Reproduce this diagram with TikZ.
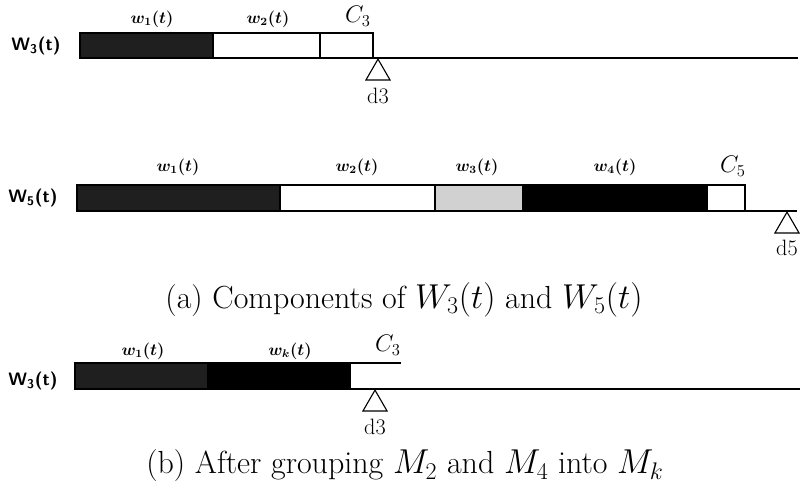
\documentclass[tikz,border=0pt]{standalone}
\usepackage{fontspec}
\usepackage{amsmath}
\usetikzlibrary{shapes.geometric, positioning}
\tikzset{
  seg/.style={draw=black, line width=0.8pt},
  darkseg/.style={seg, fill=black!88},
  blackseg/.style={seg, fill=black},
  greyseg/.style={seg, fill=black!18},
  whiteseg/.style={seg, fill=white},
  baseline/.style={line width=0.9pt},
  marker/.style={isosceles triangle, shape border rotate=90,
    isosceles triangle apex angle=60, draw, line width=0.8pt,
    inner sep=0pt, minimum size=15pt, anchor=apex},
  rowlabel/.style={font=\fontsize{13}{15}\selectfont\sffamily\bfseries},
  partlabel/.style={font=\fontsize{12}{14}\selectfont\boldmath},
  clabel/.style={font=\fontsize{17}{19}\selectfont},
  dlabel/.style={font=\fontsize{16}{18}\selectfont},
  caption/.style={font=\fontsize{23}{27}\selectfont\addfontfeatures{LetterSpace=3}}
}
\begin{document}
\begin{tikzpicture}[x=0.72pt, y=-0.72pt]
  \useasboundingbox (0,0) rectangle (800,499);
  % (a) W3(t)
  \node[rowlabel] (lab3) at (36,46) {W\textsubscript{3}(t)};
  \draw[darkseg] (80,33) rectangle (213,58);
  \draw[whiteseg] (213,33) rectangle (320,58);
  \draw[whiteseg] (320,33) rectangle (373,58);
  \coordinate (end3) at (798,58);
  \draw[baseline] (373,58) -- (end3);
  \node[partlabel] (w1a) at (152,19) {$w_1(t)$};
  \node[partlabel] (w2a) at (268,19) {$w_2(t)$};
  \node[clabel] (c3a) at (358,16) {$C_3$};
  \node[marker] (tri3a) at (378,58) {};
  \node[dlabel, below=2pt of tri3a] (d3a) {d3};

  % (a) W5(t)
  \node[rowlabel] (lab5) at (33,198) {W\textsubscript{5}(t)};
  \draw[darkseg] (77,185) rectangle (280,211);
  \draw[whiteseg] (280,185) rectangle (435,211);
  \draw[greyseg] (435,185) rectangle (523,211);
  \draw[blackseg] (523,185) rectangle (707,211);
  \draw[whiteseg] (707,185) rectangle (745,211);
  \coordinate (end5) at (797,211);
  \draw[baseline] (745,211) -- (end5);
  \node[partlabel] (w1b) at (178,167) {$w_1(t)$};
  \node[partlabel] (w2b) at (357,167) {$w_2(t)$};
  \node[partlabel] (w3b) at (477,167) {$w_3(t)$};
  \node[partlabel] (w4b) at (615,167) {$w_4(t)$};
  \node[clabel] (c5b) at (733,166) {$C_5$};
  \node[marker] (tri5) at (787,211) {};
  \node[dlabel, below=1pt of tri5] (d5) {d5};

  \node[caption] (capa) at (404,300) {(a) Components of $W_3(t)$ and $W_5(t)$};

  % (b) after grouping
  \node[rowlabel] (lab3b) at (33,381) {W\textsubscript{3}(t)};
  \draw[darkseg] (75,363) rectangle (208,389);
  \draw[blackseg] (208,363) rectangle (350,389);
  \draw[seg] (350,363) -- (401,363);
  \coordinate (end3b) at (800,389);
  \draw[baseline] (350,389) -- (end3b);
  \node[partlabel] (w1c) at (143,351) {$w_1(t)$};
  \node[partlabel] (wkc) at (290,351) {$w_k(t)$};
  \node[clabel] (c3c) at (388,345) {$C_3$};
  \node[marker] (tri3c) at (375,389) {};
  \node[dlabel, below=2pt of tri3c] (d3c) {d3};

  \node[caption] (capb) at (405,466) {(b) After grouping $M_2$ and $M_4$ into $M_k$};
\end{tikzpicture}
\end{document}
